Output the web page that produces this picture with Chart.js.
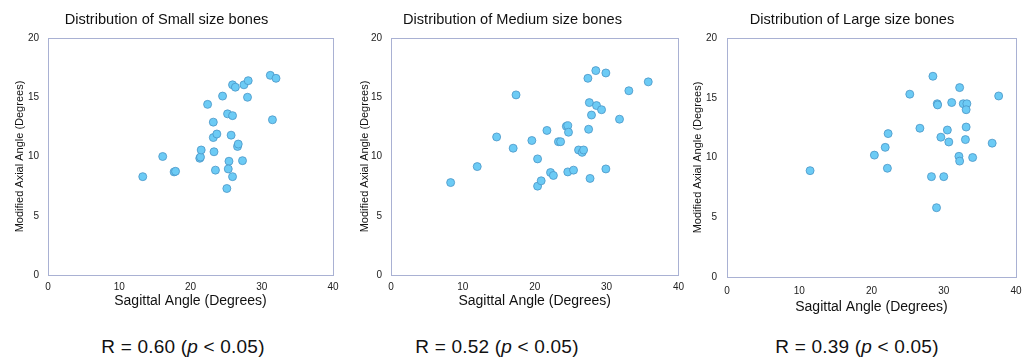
<!DOCTYPE html>
<html>
<head>
<meta charset="utf-8">
<script src="https://cdn.jsdelivr.net/npm/chart.js@4"></script>
<style>
  html, body { margin: 0; padding: 0; background: #fff; }
  body { width: 1033px; height: 358px; position: relative; overflow: hidden;
         font-family: "Liberation Sans", Arial, sans-serif; }
  .panel { position: absolute; top: 0; }
  .rtext { position: absolute; top: 336px; width: 240px; text-align: center;
           font-size: 19px; letter-spacing: 0.2px; color: #111; line-height: 22px; }
</style>
</head>
<body>
<div class="panel" style="left:0px;width:345px;height:315px"><canvas id="smallChart"></canvas></div>
<div class="panel" style="left:345px;width:345px;height:315px"><canvas id="mediumChart"></canvas></div>
<div class="panel" style="left:688px;width:345px;height:320px"><canvas id="largeChart"></canvas></div>
<div class="rtext" style="left:63px">R = <span id="r0"></span> (<i>p</i> &lt; 0.05)</div>
<div class="rtext" style="left:377px">R = <span id="r1"></span> (<i>p</i> &lt; 0.05)</div>
<div class="rtext" style="left:737px">R = <span id="r2"></span> (<i>p</i> &lt; 0.05)</div>
<script>
// values
const smallX = [13.3, 16.1, 17.7, 17.9, 21.3, 21.4, 21.5, 22.4, 23.2, 23.2, 23.7, 23.3, 23.5, 24.5, 25.2, 25.9, 25.7, 25.4, 25.3, 25.1, 25.9, 25.9, 26.3, 26.6, 26.7, 27.3, 27.5, 28.1, 28.0, 31.2, 32.0, 31.5];
const smallY = [8.3, 10.0, 8.7, 8.75, 9.85, 9.95, 10.55, 14.4, 12.9, 11.6, 11.9, 10.4, 8.85, 15.1, 13.6, 13.45, 11.8, 9.6, 8.95, 7.3, 8.3, 16.05, 15.85, 10.85, 11.05, 9.65, 16.05, 16.4, 15.0, 16.85, 16.6, 13.1];

const mediumX = [8.3, 12.0, 14.7, 17.0, 17.4, 19.6, 20.4, 20.4, 20.9, 21.7, 22.2, 22.6, 23.3, 23.6, 24.4, 24.6, 24.7, 24.6, 25.4, 26.1, 26.6, 26.8, 27.4, 27.6, 27.5, 27.7, 27.9, 28.5, 28.6, 29.3, 29.9, 29.9, 31.8, 33.1, 35.8];
const mediumY = [7.8, 9.15, 11.65, 10.7, 15.2, 11.35, 9.8, 7.5, 7.95, 12.2, 8.65, 8.4, 11.25, 11.25, 12.55, 12.6, 12.05, 8.7, 8.85, 10.55, 10.35, 10.55, 16.6, 14.55, 12.3, 8.15, 13.5, 17.25, 14.3, 13.95, 17.05, 8.95, 13.15, 15.55, 16.3];

const largeX = [11.5, 20.4, 21.9, 22.3, 22.2, 25.3, 26.7, 28.5, 28.3, 29.1, 29.15, 29.0, 29.6, 30.0, 30.5, 30.7, 31.1, 32.2, 32.1, 32.2, 32.7, 33.2, 33.1, 33.1, 33.0, 34.0, 36.7, 37.6];
const largeY = [8.9, 10.2, 10.85, 12.0, 9.1, 15.3, 12.45, 16.8, 8.4, 14.5, 14.4, 5.8, 11.7, 8.4, 12.3, 11.3, 14.6, 15.85, 10.1, 9.7, 14.5, 14.5, 14.0, 12.55, 11.5, 10.0, 11.2, 15.15];

const titles = ["Distribution of Small size bones", "Distribution of Medium size bones", "Distribution of Large size bones"];
const rValues = ["0.60", "0.52", "0.39"];
const xTitle = "Sagittal Angle (Degrees)";
const yTitle = "Modified Axial Angle (Degrees)";

const FONT = "'Liberation Sans', Arial, sans-serif";

// draws the full box round the plot area
const boxPlugin = {
  id: "plotBox",
  afterDraw(chart) {
    const a = chart.chartArea;
    const ctx = chart.ctx;
    ctx.save();
    ctx.strokeStyle = "#a9b1d3";
    ctx.lineWidth = 1;
    ctx.strokeRect(Math.round(a.left) + 0.5, Math.round(a.top) + 0.5,
      Math.round(a.right - a.left), Math.round(a.bottom - a.top));
    ctx.restore();
  },
};

function makeChart(id, xs, ys, title, cfg) {
  const pts = xs.map((x, i) => ({ x: x, y: ys[i] }));
  return new Chart(document.getElementById(id), {
    type: "scatter",
    data: {
      datasets: [{
        data: pts,
        backgroundColor: "#6ccbf5",
        borderColor: "#4a95c6",
        borderWidth: 0.8,
        pointRadius: 4,
      }],
    },
    options: {
      responsive: true,
      maintainAspectRatio: false,
      animation: false,
      layout: { padding: { left: 0, right: cfg.padRight, top: 0, bottom: 0 } },
      plugins: {
        legend: { display: false },
        tooltip: { enabled: false },
        title: {
          display: true,
          text: title,
          color: "#111",
          font: { family: FONT, size: 14.6, weight: "normal" },
          padding: { top: 11.5, bottom: 9 },
        },
      },
      scales: {
        x: {
          type: "linear",
          min: 0, max: 40,
          grid: { display: false, drawTicks: false },
          border: { display: false },
          ticks: { stepSize: 10, padding: cfg.xTickPad, color: "#222", font: { family: FONT, size: 10 } },
          title: {
            display: true, text: xTitle, color: "#111",
            font: { family: FONT, size: 14 }, padding: { top: 0, bottom: cfg.xTitlePad },
          },
          afterFit: (s) => { s.height = cfg.xHeight; },
        },
        y: {
          min: 0, max: 20,
          grid: { display: false, drawTicks: false },
          border: { display: false },
          ticks: { stepSize: 5, padding: cfg.yTickPad, color: "#222", font: { family: FONT, size: 10 } },
          title: {
            display: true, text: yTitle, color: "#111",
            font: { family: FONT, size: 11 }, padding: { top: cfg.yTitlePad, bottom: 0 },
          },
          afterFit: (s) => { s.width = cfg.yWidth; },
        },
      },
    },
    plugins: [boxPlugin],
  });
}

makeChart("smallChart", smallX, smallY, titles[0],
  { padRight: 12, xHeight: 40, xTickPad: 6, xTitlePad: 5, yWidth: 48, yTickPad: 9, yTitlePad: 13 });
makeChart("mediumChart", mediumX, mediumY, titles[1],
  { padRight: 10, xHeight: 40, xTickPad: 6, xTitlePad: 5, yWidth: 46, yTickPad: 9, yTitlePad: 13 });
makeChart("largeChart", largeX, largeY, titles[2],
  { padRight: 17, xHeight: 43, xTickPad: 8, xTitlePad: 4, yWidth: 39, yTickPad: 10, yTitlePad: 3 });

rValues.forEach((r, i) => { document.getElementById("r" + i).textContent = r; });
</script>
</body>
</html>
